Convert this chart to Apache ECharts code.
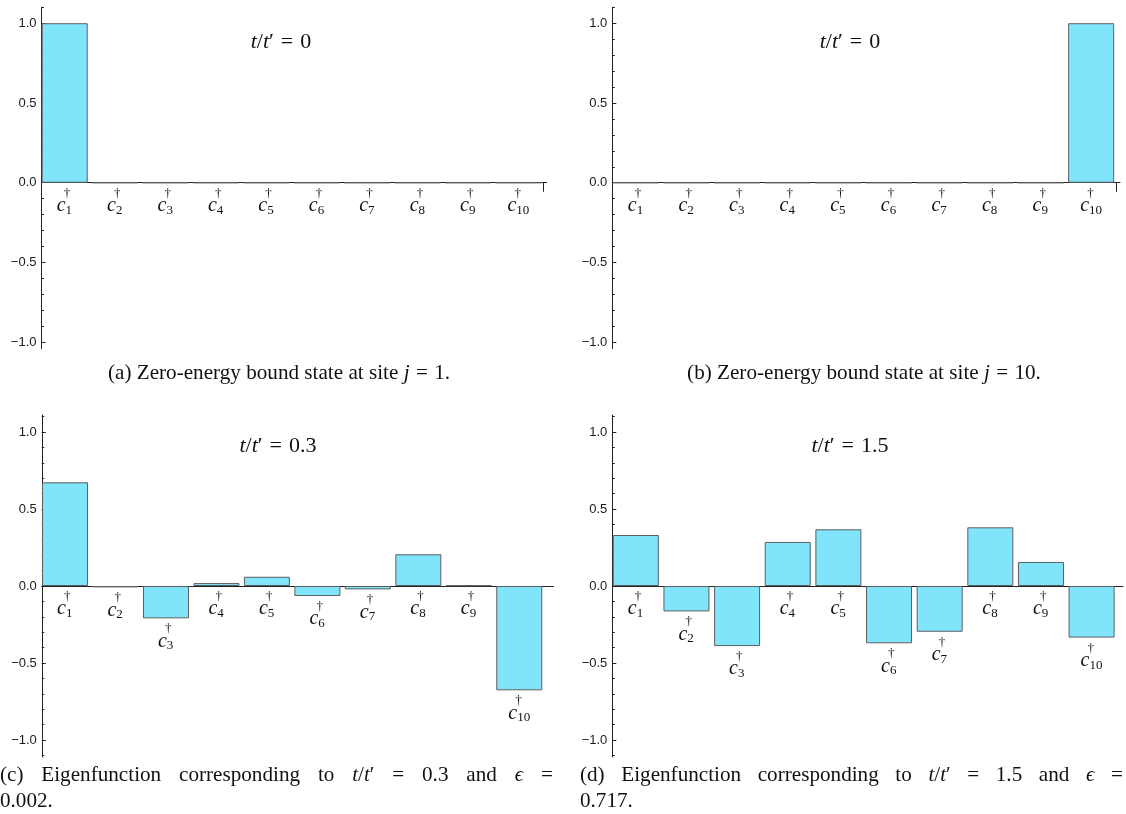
<!DOCTYPE html>
<html><head><meta charset="utf-8">
<script src="https://cdn.jsdelivr.net/npm/echarts@6/dist/echarts.min.js"></script>
<style>html,body{margin:0;padding:0;background:#fff}#chart{width:1126px;height:814px}</style>
</head><body><div id="chart"></div>
<script>
// ---- data ----
const sites = [1, 2, 3, 4, 5, 6, 7, 8, 9, 10];
const siteLabels = ['1', '2', '3', '4', '5', '6', '7', '8', '9', '10'];
const valuesA = [1, 0, 0, 0, 0, 0, 0, 0, 0, 0];
const valuesB = [0, 0, 0, 0, 0, 0, 0, 0, 0, 1];
const valuesC = [0.673, -0.009, -0.21, 0.019, 0.06, -0.065, -0.022, 0.206, 0.004, -0.677];
const valuesD = [0.331, -0.165, -0.39, 0.286, 0.368, -0.372, -0.297, 0.381, 0.156, -0.335];
const ratioLabels = ['0', '0', '0.3', '1.5'];
const majorTicks = [-1, -0.5, 0, 0.5, 1];
const minorTicks = [-1.1, -1.0, -0.9, -0.8, -0.7, -0.6, -0.5, -0.4, -0.3, -0.2, -0.1, 0, 0.1, 0.2, 0.3, 0.4, 0.5, 0.6, 0.7, 0.8, 0.9, 1.0, 1.1];
const captionA = '(a) Zero-energy bound state at site {i|j}{sp| }={sp| }1.';
const captionB = '(b) Zero-energy bound state at site {i|j}{sp| }={sp| }10.';
const captionC1 = [[['r','(c)']],[['r','Eigenfunction']],[['r','corresponding']],[['r','to']],[['i','t'],['r','/'],['i','t'],['r','\u2032']],[['r','=']],[['r','0.3']],[['r','and']],[['i','\u03f5']],[['r','=']]];
const captionC2 = '0.002.';
const captionD1 = [[['r','(d)']],[['r','Eigenfunction']],[['r','corresponding']],[['r','to']],[['i','t'],['r','/'],['i','t'],['r','\u2032']],[['r','=']],[['r','1.5']],[['r','and']],[['i','\u03f5']],[['r','=']]];
const captionD2 = '0.717.';

// ---- layout ----
const panels = [
  {values: valuesA, grid: {left: 41.5, top: 7.25, width: 505.2, height: 341.4}, ymin: -1.04, ymax: 1.1, xmin: 0.54, xmax: 10.56, endTick: true, titleX: 281, titleY: 42},
  {values: valuesB, grid: {left: 612.3, top: 7.25, width: 507.7, height: 341.4}, ymin: -1.04, ymax: 1.1, xmin: 0.535, xmax: 10.57, endTick: true, titleX: 850, titleY: 42},
  {values: valuesC, grid: {left: 41.8, top: 415, width: 511.8, height: 342}, ymin: -1.11, ymax: 1.11, xmin: 0.54, xmax: 10.68, endTick: false, titleX: 278, titleY: 446},
  {values: valuesD, grid: {left: 612.3, top: 415, width: 510.7, height: 342}, ymin: -1.11, ymax: 1.11, xmin: 0.536, xmax: 10.62, endTick: false, titleX: 850, titleY: 446}
];

const SERIF = '"Liberation Serif", "DejaVu Serif", serif';
const INK = '#111';
const BAR = '#80e4fb';
const AXIS = '#222';

const grids = [], xAxes = [], yAxes = [], series = [];
panels.forEach((p, k) => {
  grids.push(Object.assign({containLabel: false}, p.grid));
  xAxes.push({
    type: 'value', gridIndex: k, min: p.xmin, max: p.xmax,
    axisLine: {show: true, onZero: true, lineStyle: {color: AXIS, width: 1}},
    axisTick: {show: p.endTick, inside: false, length: 9, customValues: [10.5], lineStyle: {color: AXIS}},
    axisLabel: {show: false}, splitLine: {show: false}
  });
  const tol = 1e-9;
  yAxes.push({
    type: 'value', gridIndex: k, min: p.ymin, max: p.ymax, position: 'left',
    axisLine: {show: true, onZero: false, lineStyle: {color: AXIS, width: 1}},
    axisTick: {show: true, inside: true, length: 4, customValues: majorTicks, lineStyle: {color: AXIS}},
    axisLabel: {show: true, customValues: majorTicks, margin: 5, fontSize: 13, fontFamily: '"Liberation Sans", Arial, sans-serif', color: '#1a1a1a',
      formatter: v => (v < 0 ? '\u2212' : '') + Math.abs(v).toFixed(1)},
    splitLine: {show: false}
  });
  yAxes.push({
    type: 'value', gridIndex: k, min: p.ymin, max: p.ymax, position: 'left',
    axisLine: {show: false},
    axisTick: {show: true, inside: true, length: 2.5, customValues: minorTicks.filter(v => v >= p.ymin - tol && v <= p.ymax + tol), lineStyle: {color: AXIS}},
    axisLabel: {show: false}, splitLine: {show: false}
  });
  series.push({
    type: 'bar', xAxisIndex: k, yAxisIndex: 2 * k, barWidth: 46,
    itemStyle: {color: BAR, borderColor: '#5e5e5e', borderWidth: 1},
    data: p.values.map((v, i) => ({
      value: [sites[i], v],
      label: {offset: [siteLabels[i].length > 1 ? -11 : -8, 0]}
    })),
    label: {
      show: true, position: 'bottom', distance: 6, align: 'left',
      formatter: prm => '{g|\u00a0}{d|\u2020}\n{c|c}{s|' + siteLabels[prm.dataIndex] + '}',
      rich: {
        g: {width: 7, fontSize: 10, lineHeight: 9},
        d: {fontFamily: SERIF, fontSize: 13, lineHeight: 9, color: INK},
        c: {fontFamily: SERIF, fontStyle: 'italic', fontSize: 20, lineHeight: 16, color: INK},
        s: {fontFamily: SERIF, fontSize: 13, lineHeight: 16, color: INK, padding: [9, 0, 0, 0]}
      }
    }
  });
});

// ---- text measuring for captions ----
const ctx = document.createElement('canvas').getContext('2d');
function segWidth(segs, size) {
  let w = 0;
  for (const [k, t] of segs) { ctx.font = (k === 'i' ? 'italic ' : '') + size + 'px ' + SERIF; w += ctx.measureText(t).width; }
  return w;
}
const refSegs = [['r', '(a) Zero-energy bound state at site '], ['i', 'j'], ['r', ' = 1.']];
let capSize = 18 * 340 / segWidth(refSegs, 18);
capSize = Math.max(15, Math.min(23, capSize));
function justify(words, target) {
  const total = words.reduce((s, w) => s + segWidth(w, capSize), 0);
  const gap = (target - total) / (words.length - 1);
  const text = words.map(w => w.map(([k, t]) => '{' + k + '|' + t + '}').join('')).join('{g| }');
  return {text, gap};
}
const capRich = (extra) => Object.assign({
  r: {fontFamily: SERIF, fontSize: capSize, fill: INK},
  i: {fontFamily: SERIF, fontStyle: 'italic', fontSize: capSize, fill: INK},
  sp: {width: capSize * 0.3, fontSize: capSize}
}, extra || {});
const jc = justify(captionC1, 553);
const jd = justify(captionD1, 543);

function textEl(x, y, text, align, rich, size) {
  return {type: 'text', x, y, silent: true, style: {
    text, fill: INK, fontFamily: SERIF, fontSize: size || capSize,
    align: align, verticalAlign: 'middle', rich
  }};
}
const graphics = [];
panels.forEach((p, k) => {
  graphics.push(textEl(p.titleX, p.titleY, '{i|t}/{i|t}\u2032{sp| }={sp| }' + ratioLabels[k], 'center', {
    i: {fontFamily: SERIF, fontStyle: 'italic', fontSize: 22, fill: INK},
    sp: {width: 7, fontSize: 22}
  }, 22));
});
graphics.push(textEl(279, 373, captionA, 'center', capRich()));
graphics.push(textEl(864, 373, captionB, 'center', capRich()));
graphics.push(textEl(0, 775, jc.text, 'left', capRich({g: {width: jc.gap, fontSize: capSize}})));
graphics.push(textEl(0, 801, captionC2, 'left', capRich()));
graphics.push(textEl(580, 775, jd.text, 'left', capRich({g: {width: jd.gap, fontSize: capSize}})));
graphics.push(textEl(580, 801, captionD2, 'left', capRich()));

const chart = echarts.init(document.getElementById('chart'), null, {renderer: 'canvas'});
chart.setOption({
  animation: false,
  backgroundColor: '#fff',
  grid: grids, xAxis: xAxes, yAxis: yAxes, series,
  graphic: graphics
});
</script></body></html>
